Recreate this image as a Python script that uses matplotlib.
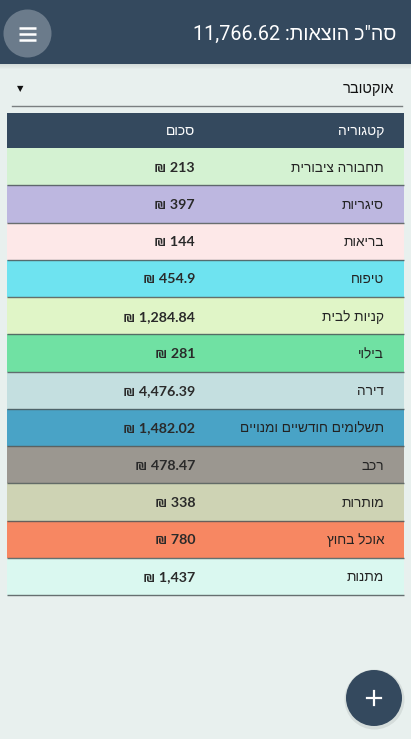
import numpy as np
import matplotlib.pyplot as plt
from matplotlib.patches import Rectangle, Circle

# נתונים
month = "אוקטובר"
categories = ["תחבורה ציבורית", "סיגריות", "בריאות", "טיפוח", "קניות לבית", "בילוי",
              "דירה", "תשלומים חודשיים ומנויים", "רכב", "מותרות", "אוכל בחוץ", "מתנות"]
amounts = [213, 397, 144, 454.9, 1284.84, 281, 4476.39, 1482.02, 478.47, 338, 780, 1437]
row_colors = ["#d4f2d2", "#bdb7e0", "#fde8e8", "#6ee3f0", "#e0f5c7", "#70e1a3",
              "#c4dfe0", "#49a3c6", "#9b9790", "#ced3b4", "#f78762", "#daf8f0"]
col_titles = ["קטגוריה", "סכום"]
title_label = "סה\"כ הוצאות"

HEB = ["Liberation Sans", "DejaVu Sans"]
NUM = ["Lato", "Liberation Sans", "DejaVu Sans"]
DARK = "#34495e"
BG = "#e8f0ee"


def vis(s):
    # matplotlib has no bidi: flip the Hebrew to visual order
    return s[::-1]


total = round(sum(amounts), 2)

fig = plt.figure(figsize=(4.11, 7.39), dpi=100)
fig.patch.set_facecolor(BG)
ax = fig.add_axes([0, 0, 1, 1])
ax.set_xlim(0, 411)
ax.set_ylim(739, 0)
ax.axis("off")

# app bar + shadow
for k in range(6):
    ax.add_patch(Rectangle((0, 63 + k), 411, 1, color="#000000", alpha=0.10 * (1 - k / 6), lw=0))
ax.add_patch(Rectangle((0, 0), 411, 63.5, color=DARK, lw=0))
ax.add_patch(Circle((27.5, 33.5), 24, color="#6b7b8b", lw=0))
for yy in (27.5, 33.5, 39.5):
    ax.plot([19, 36], [yy, yy], color="white", lw=1.8, solid_capstyle="butt")
ax.text(396, 34, f"{total:,.2f} :" + vis(title_label), color="white", fontsize=14.2,
        ha="right", va="center", family=["Roboto", "Liberation Sans", "DejaVu Sans"])

# month selector
ax.text(394, 89, vis(month), fontsize=10.5, ha="right", va="center", family=HEB, color="#111111")
ax.text(20, 89, "▼", fontsize=6, ha="center", va="center", family="DejaVu Sans", color="#111111")
ax.plot([12, 402], [106, 106], color="#7a7f80", lw=1)

# table header
ax.add_patch(Rectangle((7, 113), 397, 35, color=DARK, lw=0))
ax.text(384, 131, vis(col_titles[0]), color="white", fontsize=10, ha="right", va="center", family=HEB)
ax.text(195, 131, vis(col_titles[1]), color="white", fontsize=10, ha="right", va="center", family=HEB)

# table rows
n = len(categories)
tab = fig.add_axes([7 / 411, (739 - 595) / 739, 397 / 411, 447 / 739])
tab.set_xlim(0, 397)
tab.set_ylim(n - 0.5, -0.5)
tab.axis("off")
y = np.arange(n)
tab.barh(y, 397, left=0, height=1.0, color=row_colors, lw=0)
tab.hlines(y + 0.5, 0, 397, color="#4f595a", lw=1.0, alpha=0.85, clip_on=False)
for i in range(n):
    tab.text(377, y[i] + 0.03, vis(categories[i]), fontsize=9.8, ha="right", va="center",
             family=HEB, color="#222222")
    tab.text(188, y[i] + 0.03, f"₪ {amounts[i]:,}", fontsize=10.3, ha="right", va="center",
             family=NUM, fontweight="bold", color="#2a2a2a")

# floating add button
ax.add_patch(Circle((374.5, 699.5), 30, color="#000000", alpha=0.08, lw=0))
ax.add_patch(Circle((374, 698), 28, color=DARK, lw=0))
ax.plot([367, 381], [698, 698], color="white", lw=1.6)
ax.plot([374, 374], [691, 705], color="white", lw=1.6)

fig.savefig("out.png", dpi=100, facecolor=BG)
